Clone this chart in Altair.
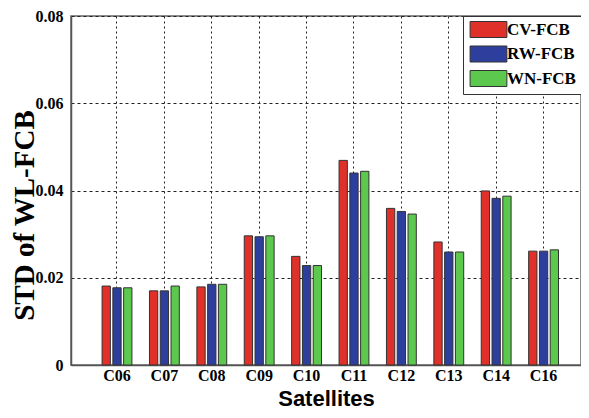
import altair as alt
import pandas as pd

satellites = ["C06", "C07", "C08", "C09", "C10", "C11", "C12", "C13", "C14", "C16"]
series = ["CV-FCB", "RW-FCB", "WN-FCB"]
cv_fcb = [0.0181, 0.0170, 0.0179, 0.0296, 0.0249, 0.0469, 0.0359, 0.0282, 0.0399, 0.0261]
rw_fcb = [0.0177, 0.0170, 0.0185, 0.0294, 0.0228, 0.0440, 0.0352, 0.0259, 0.0382, 0.0261]
wn_fcb = [0.0177, 0.0181, 0.0185, 0.0296, 0.0228, 0.0444, 0.0346, 0.0259, 0.0387, 0.0264]
colors = ["#E0302A", "#2E3E9C", "#5CC84E"]

rows = []
for name, vals in zip(series, [cv_fcb, rw_fcb, wn_fcb]):
    for s, v in zip(satellites, vals):
        rows.append({"Satellite": s, "Series": name, "STD": v})
df = pd.DataFrame(rows)

serif = "Liberation Serif"

chart = alt.Chart(df).mark_bar(stroke="#333333", strokeWidth=1).encode(
    x=alt.X(
        "Satellite:N",
        sort=satellites,
        scale=alt.Scale(paddingInner=0.37, paddingOuter=0.565, align=0.58),
        axis=alt.Axis(
            title="Satellites",
            titleFont="Liberation Sans",
            titleFontSize=22,
            titleFontWeight="bold",
            titleColor="black",
            titleBaseline="alphabetic",
            titleY=40,
            labelFont=serif,
            labelFontSize=16,
            labelFontWeight="bold",
            labelColor="black",
            labelAngle=0,
            labelPadding=2,
            ticks=False,
            grid=True,
            bandPosition=0.5,
            gridDash=[2, 3],
            gridColor="#222222",
            gridWidth=1,
            domainColor="#555555",
            domainWidth=1.5,
        ),
    ),
    xOffset=alt.XOffset(
        "Series:N",
        sort=series,
        scale=alt.Scale(paddingInner=0.23, paddingOuter=0),
    ),
    y=alt.Y(
        "STD:Q",
        scale=alt.Scale(domain=[0, 0.08], nice=False),
        axis=alt.Axis(
            title="STD of WL-FCB",
            titleFont=serif,
            titleFontSize=29,
            titleFontWeight="bold",
            titleColor="black",
            titleBaseline="alphabetic",
            titleAngle=270,
            titleAlign="center",
            titleX=-38,
            titleY=199,
            values=[0, 0.02, 0.04, 0.06, 0.08],
            labelExpr="datum.value == 0 ? '0' : format(datum.value, '.2f')",
            labelFont=serif,
            labelFontSize=16,
            labelFontWeight="bold",
            labelColor="black",
            labelPadding=8,
            ticks=False,
            grid=True,
            gridDash=[3, 3],
            gridColor="#222222",
            gridWidth=1,
            domainColor="#555555",
            domainWidth=1.5,
        ),
    ),
    color=alt.Color(
        "Series:N",
        sort=series,
        scale=alt.Scale(domain=series, range=colors),
        legend=alt.Legend(
            title=None,
            orient="top-right",
            offset=0,
            padding=5,
            strokeColor="#333333",
            fillColor="white",
            symbolType="M-2.3,-1H2.3V1H-2.3Z",
            symbolSize=256,
            symbolStrokeColor="#333333",
            symbolStrokeWidth=1,
            symbolOpacity=1,
            symbolOffset=12,
            labelOffset=10,
            labelFont=serif,
            labelFontSize=17,
            labelFontWeight="bold",
            labelColor="black",
            rowPadding=3.5,
        ),
    ),
).properties(
    width=510,
    height=349,
    autosize=alt.AutoSizeParams(type="none"),
    padding={"left": 63, "top": 8, "right": 0, "bottom": 45},
).configure_view(
    stroke="#666666",
    strokeWidth=1.5,
)

chart.save("out.html", embed_options={"renderer": "svg", "actions": False})
